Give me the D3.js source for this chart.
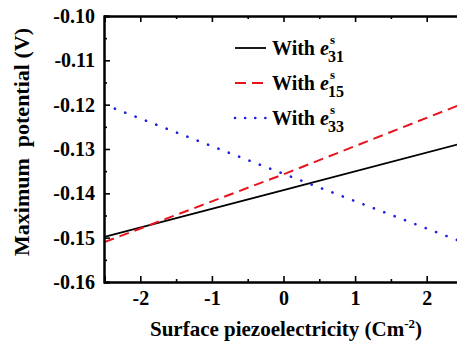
<!DOCTYPE html>
<html>
<head>
<meta charset="utf-8">
<script src="https://cdn.jsdelivr.net/npm/d3@7"></script>
<style>
  body { margin: 0; background: #fff; }
  svg { display: block; }
  text { font-family: "Liberation Serif", "Times New Roman", serif; font-weight: bold; }
</style>
</head>
<body>
<div id="chart"></div>
<script>
// values (straight lines)
var xs = [-2.5, 0, 2.5];
var e31 = [-0.1498, -0.1393, -0.1287];
var e15 = [-0.1510, -0.1357, -0.1198];
var e33 = [-0.1200, -0.1356, -0.1510];

var xTicks = [-2, -1, 0, 1, 2];
var yTicks = [-0.16, -0.15, -0.14, -0.13, -0.12, -0.11, -0.10];

var series = [
  { name: "31", values: e31, color: "#000000", dash: null, width: 1.8, cap: "butt" },
  { name: "15", values: e15, color: "#e8141b", dash: "10,6", width: 2, cap: "butt" },
  { name: "33", values: e33, color: "#1f1fe0", dash: "0.1,11", width: 2.6, cap: "round" }
];

var W = 457, H = 346;
var plotLeft = 104, plotTop = 16, plotBottom = 282;

var svg = d3.select("#chart").append("svg")
  .attr("width", W)
  .attr("height", H);

var x = d3.scaleLinear().domain([-2.5, 2.5]).range([104.5, 462.5]);
var y = d3.scaleLinear().domain([-0.16, -0.10]).range([plotBottom, plotTop]);

// plain hyphen for negatives, like the original
var fmtX = function (d) { return String(d); };
var fmtY = function (d) { return d.toFixed(2); };

// clip so the lines stop at the picture edge
svg.append("clipPath").attr("id", "clip")
  .append("rect").attr("x", plotLeft).attr("y", plotTop).attr("width", W - plotLeft).attr("height", plotBottom - plotTop);

// lines
var line = d3.line()
  .x(function (d, i) { return x(xs[i]); })
  .y(function (d) { return y(d); });

svg.append("g").attr("clip-path", "url(#clip)")
  .selectAll("path")
  .data(series)
  .enter()
  .append("path")
  .attr("d", function (d) { return line(d.values); })
  .attr("fill", "none")
  .attr("stroke", function (d) { return d.color; })
  .attr("stroke-width", function (d) { return d.width; })
  .attr("stroke-dasharray", function (d) { return d.dash; })
  .attr("stroke-linecap", function (d) { return d.cap; });

// axes (ticks inward)
var minorX = [-2.5, -1.5, -0.5, 0.5, 1.5, 2.5];
var minorY = [-0.155, -0.145, -0.135, -0.125, -0.115, -0.105];

var gx = svg.append("g")
  .attr("transform", "translate(0," + plotBottom + ")")
  .call(d3.axisBottom(x).tickValues(xTicks).tickSize(-6).tickPadding(9).tickFormat(fmtX));
svg.append("g")
  .attr("transform", "translate(0," + plotBottom + ")")
  .call(d3.axisBottom(x).tickValues(minorX).tickSize(-3).tickFormat(""));

svg.append("g")
  .attr("transform", "translate(0," + plotTop + ")")
  .call(d3.axisTop(x).tickValues(xTicks).tickSize(-6).tickFormat(""));
svg.append("g")
  .attr("transform", "translate(0," + plotTop + ")")
  .call(d3.axisTop(x).tickValues(minorX).tickSize(-3).tickFormat(""));

var gy = svg.append("g")
  .attr("transform", "translate(" + plotLeft + ",0)")
  .call(d3.axisLeft(y).tickValues(yTicks).tickSize(-6).tickPadding(9).tickFormat(fmtY));
svg.append("g")
  .attr("transform", "translate(" + plotLeft + ",0)")
  .call(d3.axisLeft(y).tickValues(minorY).tickSize(-3).tickFormat(""));

svg.selectAll(".domain").attr("stroke", "#000").attr("stroke-width", 2);
svg.selectAll(".tick line").attr("stroke", "#000").attr("stroke-width", 1.6);
svg.selectAll(".tick text")
  .attr("fill", "#000")
  .style("font-family", "'Liberation Serif', serif")
  .style("font-weight", "bold")
  .style("font-size", "20px");
gx.selectAll(".tick text").attr("dy", "0.71em");

// axis titles
var xt = svg.append("text")
  .attr("x", 286)
  .attr("y", 336)
  .attr("text-anchor", "middle")
  .style("font-size", "21px");
xt.append("tspan").text("Surface piezoelectricity (Cm");
xt.append("tspan").attr("dy", -8).style("font-size", "13px").text("-2");
xt.append("tspan").attr("dy", 8).text(")");

svg.append("text")
  .attr("transform", "translate(29,142) rotate(-90)")
  .attr("text-anchor", "middle")
  .style("font-size", "22px")
  .style("white-space", "pre")
  .text("Maximum  potential (V)");

// legend
var leg = svg.append("g");
series.forEach(function (s, i) {
  var cy = 48 + i * 35;
  leg.append("line")
    .attr("x1", 235).attr("x2", 266)
    .attr("y1", cy).attr("y2", cy)
    .attr("stroke", s.color)
    .attr("stroke-width", s.width)
    .attr("stroke-dasharray", s.dash === null ? null : (i === 1 ? "11,6" : "0.1,10"))
    .attr("stroke-linecap", s.cap);
  var t = leg.append("text")
    .attr("x", 272).attr("y", cy + 7)
    .style("font-size", "20px");
  t.append("tspan").text("With ");
  t.append("tspan").style("font-style", "italic").text("e");
  var end = 272 + t.node().getComputedTextLength();
  leg.append("text").attr("x", end + 1).attr("y", cy - 4).style("font-size", "13px").text("s");
  leg.append("text").attr("x", end - 1).attr("y", cy + 14).style("font-size", "16px").text(s.name);
});
</script>
</body>
</html>
